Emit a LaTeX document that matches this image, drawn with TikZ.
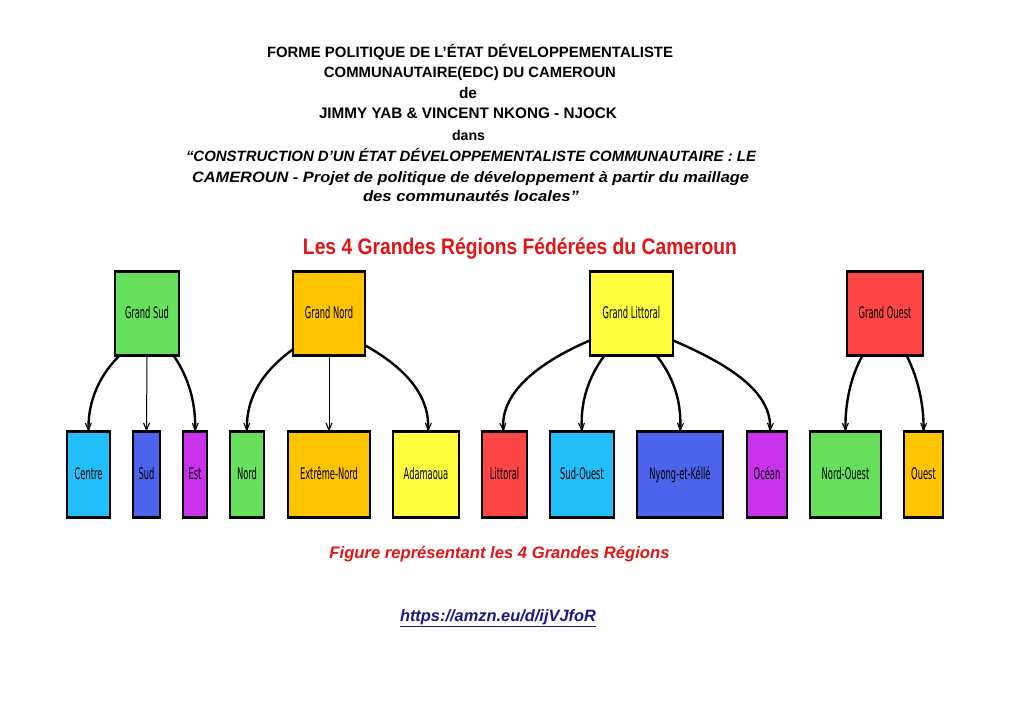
\documentclass[tikz,border=0pt]{standalone}
\usepackage{fontspec}
\usepackage{graphicx}
\setmainfont{Liberation Sans}
\newfontfamily\hand[FakeStretch=0.52]{DejaVu Sans}
\usetikzlibrary{arrows.meta}
\definecolor{cgreen}{RGB}{102,224,92}
\definecolor{corange}{RGB}{255,196,0}
\definecolor{cyellow}{RGB}{255,255,64}
\definecolor{cred}{RGB}{255,70,70}
\definecolor{ccyan}{RGB}{34,190,250}
\definecolor{cblue}{RGB}{75,100,235}
\definecolor{cmag}{RGB}{200,50,235}
\definecolor{ttred}{RGB}{228,20,20}
\definecolor{urlblue}{RGB}{25,25,140}
\begin{document}
\begin{tikzpicture}[x=1pt,y=-1pt,
  box/.style={draw=black, line width=1.3pt, inner sep=0pt, text=black,
    font=\hand\fontsize{16}{18}\selectfont, text height=11.5pt, text depth=2.5pt},
  topbox/.style={box, minimum height=83pt},
  botbox/.style={box, minimum height=85pt},
  link/.style={line width=2.4pt, line cap=round,
    -{Straight Barb[length=7pt,width=6pt,line width=1.1pt]}},
  thinlink/.style={line width=1pt,
    -{Straight Barb[length=7pt,width=6pt,line width=1.1pt]}},
  ttl/.style={anchor=base, inner sep=0pt}]
\fill[white] (0,0) rectangle (1024,724);
\useasboundingbox (0,0) rectangle (1024,724);

% titles
\node[ttl] (t1) at (470,57) {\resizebox{406pt}{!}{\bfseries\fontsize{14}{14}\selectfont FORME POLITIQUE DE L’ÉTAT DÉVELOPPEMENTALISTE}};
\node[ttl] (t2) at (470,77) {\resizebox{292pt}{!}{\bfseries\fontsize{14}{14}\selectfont COMMUNAUTAIRE(EDC) DU CAMEROUN}};
\node[ttl] (t3) at (468,98) {\resizebox{18pt}{!}{\bfseries\fontsize{14}{14}\selectfont de}};
\node[ttl] (t4) at (468,118) {\resizebox{298pt}{!}{\bfseries\fontsize{14}{14}\selectfont JIMMY YAB \& VINCENT NKONG - NJOCK}};
\node[ttl] (t5) at (468.5,140) {\resizebox{33pt}{!}{\bfseries\fontsize{14}{14}\selectfont dans}};
\node[ttl] (t6) at (471,161) {\resizebox{570pt}{!}{\bfseries\itshape\fontsize{14}{14}\selectfont “CONSTRUCTION D’UN ÉTAT DÉVELOPPEMENTALISTE COMMUNAUTAIRE : LE}};
\node[ttl] (t7) at (470.5,182) {\resizebox{557pt}{11pt}{\bfseries\itshape\fontsize{14}{14}\selectfont CAMEROUN - Projet de politique de développement à partir du maillage}};
\node[ttl] (t8) at (471,201) {\resizebox{216pt}{11pt}{\bfseries\itshape\fontsize{14}{14}\selectfont des communautés locales”}};
\node[ttl, text=ttred] (rt) at (520,254) {\resizebox{434pt}{16.5pt}{\bfseries\fontsize{22}{22}\selectfont Les 4 Grandes Régions Fédérées du Cameroun}};

% top boxes
\node[topbox, fill=cgreen, minimum width=64pt] (gsud) at (147,313.5) {Grand Sud};
\node[topbox, fill=corange, minimum width=72pt] (gnord) at (329,313.5) {Grand Nord};
\node[topbox, fill=cyellow, minimum width=83pt] (glitt) at (631.5,313.5) {Grand Littoral};
\node[topbox, fill=cred, minimum width=76pt] (gouest) at (885,313.5) {Grand Ouest};

% bottom boxes
\node[botbox, fill=ccyan, minimum width=43pt] (centre) at (88.5,474.5) {Centre};
\node[botbox, fill=cblue, minimum width=27pt] (sud) at (146.5,474.5) {Sud};
\node[botbox, fill=cmag, minimum width=24pt] (est) at (195,474.5) {Est};
\node[botbox, fill=cgreen, minimum width=34pt] (nord) at (247,474.5) {Nord};
\node[botbox, fill=corange, minimum width=82pt] (extreme) at (329,474.5) {Extrême-Nord};
\node[botbox, fill=cyellow, minimum width=66pt] (adamaoua) at (426,474.5) {Adamaoua};
\node[botbox, fill=cred, minimum width=45pt] (littoral) at (504.5,474.5) {Littoral};
\node[botbox, fill=ccyan, minimum width=64pt] (sudouest) at (582,474.5) {Sud-Ouest};
\node[botbox, fill=cblue, minimum width=86pt] (nyong) at (680,474.5) {Nyong-et-Kéllé};
\node[botbox, fill=cmag, minimum width=40pt] (ocean) at (767,474.5) {Océan};
\node[botbox, fill=cgreen, minimum width=71pt] (nordouest) at (845.5,474.5) {Nord-Ouest};
\node[botbox, fill=corange, minimum width=39pt] (ouest) at (923.5,474.5) {Ouest};

% thick top/bottom edges
\foreach \n in {gsud,gnord,glitt,gouest,centre,sud,est,nord,extreme,adamaoua,littoral,sudouest,nyong,ocean,nordouest,ouest}{
  \draw[line width=3pt] (\n.north west) -- (\n.north east);
  \draw[line width=2.6pt] (\n.south west) -- (\n.south east);
}

% connectors
\draw[link] ([xshift=5pt]gsud.south west) .. controls (100,375) and (88,400) .. (centre.north);
\draw[thinlink] (gsud.south) -- (sud.north);
\draw[link] ([xshift=-6pt]gsud.south east) .. controls (187,375) and (196,400) .. (est.north);

\draw[link] ([yshift=6pt]gnord.south west) .. controls (265,370) and (246,395) .. (nord.north);
\draw[thinlink] (gnord.south) -- (extreme.north);
\draw[link] ([yshift=10pt]gnord.south east) .. controls (400,365) and (430,392) .. ([xshift=2pt]adamaoua.north);

\draw[link] ([yshift=15pt]glitt.south west) .. controls (540,362) and (500,392) .. ([xshift=-1pt]littoral.north);
\draw[link] ([xshift=15pt]glitt.south west) .. controls (590,375) and (580,400) .. (sudouest.north);
\draw[link] ([xshift=-17pt]glitt.south east) .. controls (672,375) and (682,400) .. (nyong.north);
\draw[link] ([yshift=15pt]glitt.south east) .. controls (730,365) and (772,392) .. ([xshift=3pt]ocean.north);

\draw[link] ([xshift=16pt]gouest.south west) .. controls (850,378) and (845,405) .. (nordouest.north);
\draw[link] ([xshift=-17pt]gouest.south east) .. controls (918,378) and (924,405) .. (ouest.north);

% caption and link
\node[ttl, text=ttred] (cap) at (499.5,558) {\resizebox{340pt}{!}{\bfseries\itshape\fontsize{14}{14}\selectfont Figure représentant les 4 Grandes Régions}};
\node[ttl, text=urlblue] (url) at (498,621) {\resizebox{196pt}{!}{\bfseries\itshape\fontsize{14}{14}\selectfont\underline{https://amzn.eu/d/ijVJfoR}}};
\end{tikzpicture}
\end{document}
